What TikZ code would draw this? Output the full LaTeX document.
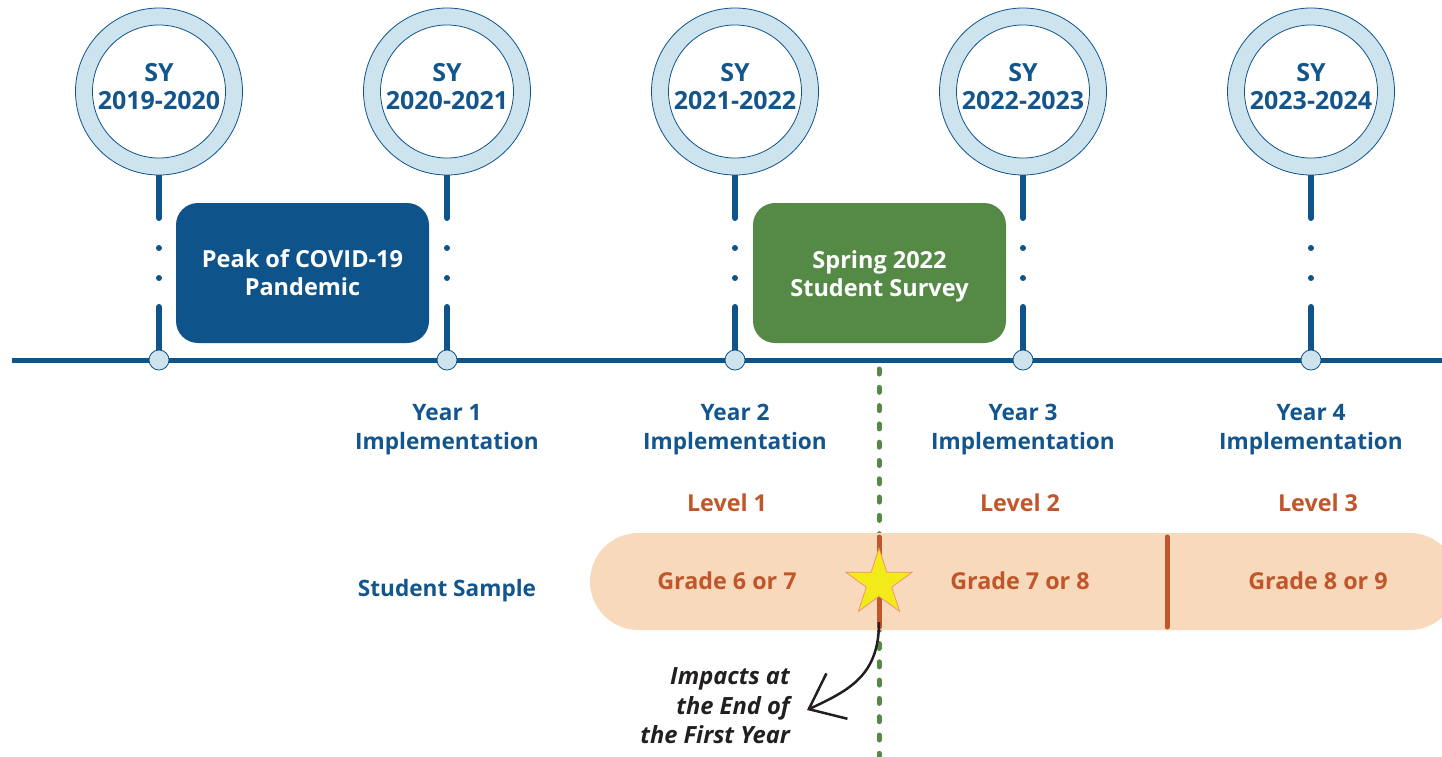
\documentclass[tikz,border=0pt]{standalone}
\usepackage{fontspec}
\setmainfont{Open Sans}
\usetikzlibrary{shapes.geometric,arrows.meta}
\definecolor{dblue}{HTML}{0F538B}
\definecolor{tblue}{HTML}{13568E}
\definecolor{lblue}{HTML}{CDE4EF}
\definecolor{dgreen}{HTML}{548A46}
\definecolor{orng}{HTML}{C0562A}
\definecolor{peach}{HTML}{F8D9BC}
\definecolor{yel}{HTML}{F3EB19}
\definecolor{pinkb}{HTML}{EE8C7A}
\definecolor{ink}{HTML}{231F20}
\begin{document}
\begin{tikzpicture}[x=1pt,y=-1pt,
  ring/.style={circle,draw=dblue,line width=0.8pt,fill=lblue,minimum size=167pt,inner sep=0pt},
  hole/.style={circle,draw=dblue,line width=0.8pt,fill=white,minimum size=133pt,inner sep=0pt},
  sytext/.style={align=center,text=tblue,inner sep=0pt,font=\fontsize{25}{28}\selectfont\bfseries},
  stem/.style={dblue,line width=6pt,line cap=round,dash pattern=on 43pt off 30pt on 0pt off 30pt on 0pt off 29pt on 90pt},
  axdot/.style={circle,draw=dblue,line width=0.8pt,fill=lblue,minimum size=20pt,inner sep=0pt},
  evbox/.style={rounded corners=22pt,minimum width=253pt,minimum height=140pt,text=white,align=center,inner sep=0pt,font=\fontsize{23.5}{28}\selectfont\bfseries},
  yrtext/.style={align=center,text=tblue,inner sep=0pt,font=\fontsize{22.6}{29}\selectfont\bfseries},
  lvtext/.style={text=orng,inner sep=0pt,font=\fontsize{23.3}{28}\selectfont\bfseries},
  divider/.style={orng,line width=5pt,line cap=round},
]
\useasboundingbox (0,0) rectangle (1442,756);

\foreach \i/\x in {1/159,2/447,3/735,4/1023,5/1311}{
  \coordinate (a\i) at (\x,360);
  \coordinate (top\i) at (\x,175);
}
% stems
\foreach \i in {1,...,5}{
  \draw[stem] (top\i) -- (a\i);
}
% axis
\coordinate (axL) at (12,360);
\coordinate (axR) at (1442,360);
\draw[dblue,line width=5pt] (axL) -- (axR);
\foreach \i in {1,...,5}{
  \node[axdot] (d\i) at (a\i) {};
}
% circles
\foreach \i/\x/\lab in {1/159/2019-2020,2/447/2020-2021,3/735/2021-2022,4/1023/2022-2023,5/1311/2023-2024}{
  \node[ring] (r\i) at (\x,91.5) {};
  \node[hole] (h\i) at (\x,91.5) {};
  \node[sytext] (s\i) at (\x,86.5) {SY\\\lab};
}
% event boxes
\node[evbox,fill=dblue] (peak) at (302.5,273) {Peak of COVID-19\\Pandemic};
\node[evbox,fill=dgreen] (spring) at (879.5,273) {};
\node[text=white,align=center,inner sep=0pt,font=\fontsize{23.5}{28}\selectfont\bfseries] (springtxt) at (879.5,276) {Spring 2022\\Student Survey};

% year labels
\node[yrtext] (y1) at (447,430) {Year 1\\Implementation};
\node[yrtext] (y2) at (735,430) {Year 2\\Implementation};
\node[yrtext] (y3) at (1023,430) {Year 3\\Implementation};
\node[yrtext] (y4) at (1311,430) {Year 4\\Implementation};

% green dotted line
\coordinate (gT) at (879,369);
\coordinate (gB) at (879,756);
\draw[dgreen,line width=5pt,line cap=round,dash pattern=on 5pt off 13.3pt] (gT) -- (gB);

% levels
\node[lvtext] (l1) at (727,503) {Level 1};
\node[lvtext] (l2) at (1020,503) {Level 2};
\node[lvtext] (l3) at (1318,503) {Level 3};

% band
\begin{scope}
\clip (0,0) rectangle (1442,756);
\fill[peach,rounded corners=48.5pt] (590,533) rectangle (1458,630);
\end{scope}
\coordinate (v1t) at (879,537);
\coordinate (v1b) at (879,627);
\coordinate (v2t) at (1167,537);
\coordinate (v2b) at (1167,627);
\draw[divider] (v1t) -- (v1b);
\draw[divider] (v2t) -- (v2b);

\node[yrtext] (ss) at (447,591) {Student Sample};
\node[lvtext] (g1) at (727,581) {Grade 6 or 7};
\node[lvtext] (g2) at (1020,581) {Grade 7 or 8};
\node[lvtext] (g3) at (1318,581) {Grade 8 or 9};

% star
\node[star,star points=5,star point ratio=2.618,minimum size=70pt,inner sep=0pt,fill=yel,draw=pinkb,line width=0.7pt] (star) at (879,583) {};

% arrow
\coordinate (arS) at (879,622);
\coordinate (arE) at (807,710);
\draw[ink,line width=2.5pt,-{Straight Barb[length=31pt,width=50pt,line width=2.5pt]}] (arS) .. controls (879,675) and (850,690) .. (arE);

\node[align=right,anchor=east,text=ink,inner sep=0pt,font=\fontsize{23.7}{29.5}\selectfont\bfseries\itshape] (imp) at (790,706) {Impacts at\\the End of\\the First Year};
\end{tikzpicture}
\end{document}
